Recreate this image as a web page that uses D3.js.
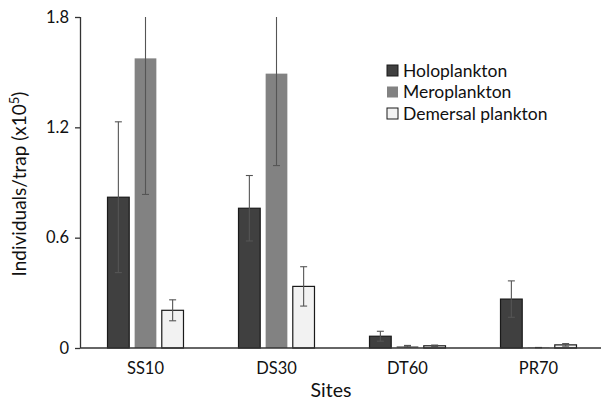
<!DOCTYPE html>
<html>
<head>
<meta charset="utf-8">
<script src="https://cdn.jsdelivr.net/npm/d3@7"></script>
<style>
  body { margin: 0; background: #fff; }
  svg text { font-family: Lato, "Open Sans", sans-serif; fill: #111; }
</style>
</head>
<body>
<div id="app"></div>
<script>
const sites   = ["SS10", "DS30", "DT60", "PR70"],
      groups  = ["Holoplankton", "Meroplankton", "Demersal plankton"],
      holo    = [0.82, 0.76, 0.064, 0.266],
      holoErr = [0.41, 0.178, 0.027, 0.099],
      mero    = [1.575, 1.492, 0.01, 0.002],
      meroErr = [0.74, 0.50, 0.004, 0.001],
      dem     = [0.205, 0.335, 0.012, 0.017],
      demErr  = [0.057, 0.107, 0.004, 0.007],
      yTicks  = [0, 0.6, 1.2, 1.8];

const colors  = ["#404040", "#828282", "#f2f2f2"],
      strokes = ["#1a1a1a", "none", "#1a1a1a"];

const W = 601, H = 400,
      margin = { top: 17, right: -3, bottom: 52, left: 80 },
      width  = W - margin.left - margin.right,
      height = H - margin.top - margin.bottom;

const series = [holo, mero, dem],
      errs   = [holoErr, meroErr, demErr];

const x = d3.scaleBand().domain(sites).range([0, width]).paddingInner(0.42).paddingOuter(0.21);
const xi = d3.scaleBand().domain(d3.range(3)).range([0, x.bandwidth()]).paddingInner(0.2);
const y = d3.scaleLinear().domain([0, 1.8]).range([height, 0]);

const svg = d3.select("#app").append("svg")
  .attr("width", W).attr("height", H);
const g = svg.append("g").attr("transform", `translate(${margin.left},${margin.top})`);

/* bars */
sites.forEach((s, i) => {
  const gg = g.append("g").attr("transform", `translate(${x(s)},0)`);
  series.forEach((vals, k) => {
    gg.append("rect")
      .attr("x", xi(k)).attr("width", xi.bandwidth())
      .attr("y", y(vals[i])).attr("height", y(0) - y(vals[i]))
      .attr("fill", colors[k])
      .attr("stroke", strokes[k]).attr("stroke-width", 1.2);
  });
});

/* error bars */
sites.forEach((s, i) => {
  series.forEach((vals, k) => {
    const cx = x(s) + xi(k) + xi.bandwidth() / 2,
          hi = Math.min(vals[i] + errs[k][i], 1.8),
          lo = vals[i] - errs[k][i];
    const eg = g.append("g").attr("stroke", "#555").attr("stroke-width", 1.1);
    eg.append("line").attr("x1", cx).attr("x2", cx).attr("y1", y(hi)).attr("y2", y(lo));
    if (vals[i] + errs[k][i] <= 1.8)
      eg.append("line").attr("x1", cx - 3.5).attr("x2", cx + 3.5).attr("y1", y(hi)).attr("y2", y(hi));
    eg.append("line").attr("x1", cx - 3.5).attr("x2", cx + 3.5).attr("y1", y(lo)).attr("y2", y(lo));
  });
});

/* axes */
const yAxis = g.append("g")
  .call(d3.axisLeft(y).tickValues(yTicks).tickSize(5).tickPadding(6).tickFormat(d => d === 0 ? "0" : d3.format(".1f")(d)));
yAxis.selectAll("text").style("font-size", "16.5px");
yAxis.selectAll("line, path").attr("stroke", "#333").attr("stroke-width", 1.3);
yAxis.select(".domain").attr("d", `M0.5,0V${height}`);

g.append("line").attr("x1", 0).attr("x2", W).attr("y1", height).attr("y2", height)
  .attr("stroke", "#333").attr("stroke-width", 1.5);

g.selectAll(".xlab").data(sites).enter().append("text")
  .attr("x", d => x(d) + x.bandwidth() / 2).attr("y", height + 26)
  .attr("text-anchor", "middle").style("font-size", "16.5px").text(d => d);

svg.append("text").attr("x", 331).attr("y", 397).attr("text-anchor", "middle")
  .style("font-size", "19.5px").text("Sites");

const yl = svg.append("text")
  .attr("transform", `translate(26,184) rotate(-90)`)
  .attr("text-anchor", "middle").style("font-size", "19px");
yl.append("tspan").text("Individuals/trap (x10");
yl.append("tspan").attr("dy", -7).style("font-size", "13px").text("5");
yl.append("tspan").attr("dy", 7).text(")");

/* legend */
const lg = svg.append("g").attr("transform", "translate(387,65)");
groups.forEach((name, k) => {
  const row = lg.append("g").attr("transform", `translate(0,${k * 21.5})`);
  row.append("rect").attr("width", 11).attr("height", 11)
    .attr("fill", colors[k]).attr("stroke", k === 1 ? "none" : "#1a1a1a").attr("stroke-width", 1);
  row.append("text").attr("x", 16).attr("y", 11.5).style("font-size", "17.5px").text(name);
});
</script>
</body>
</html>
